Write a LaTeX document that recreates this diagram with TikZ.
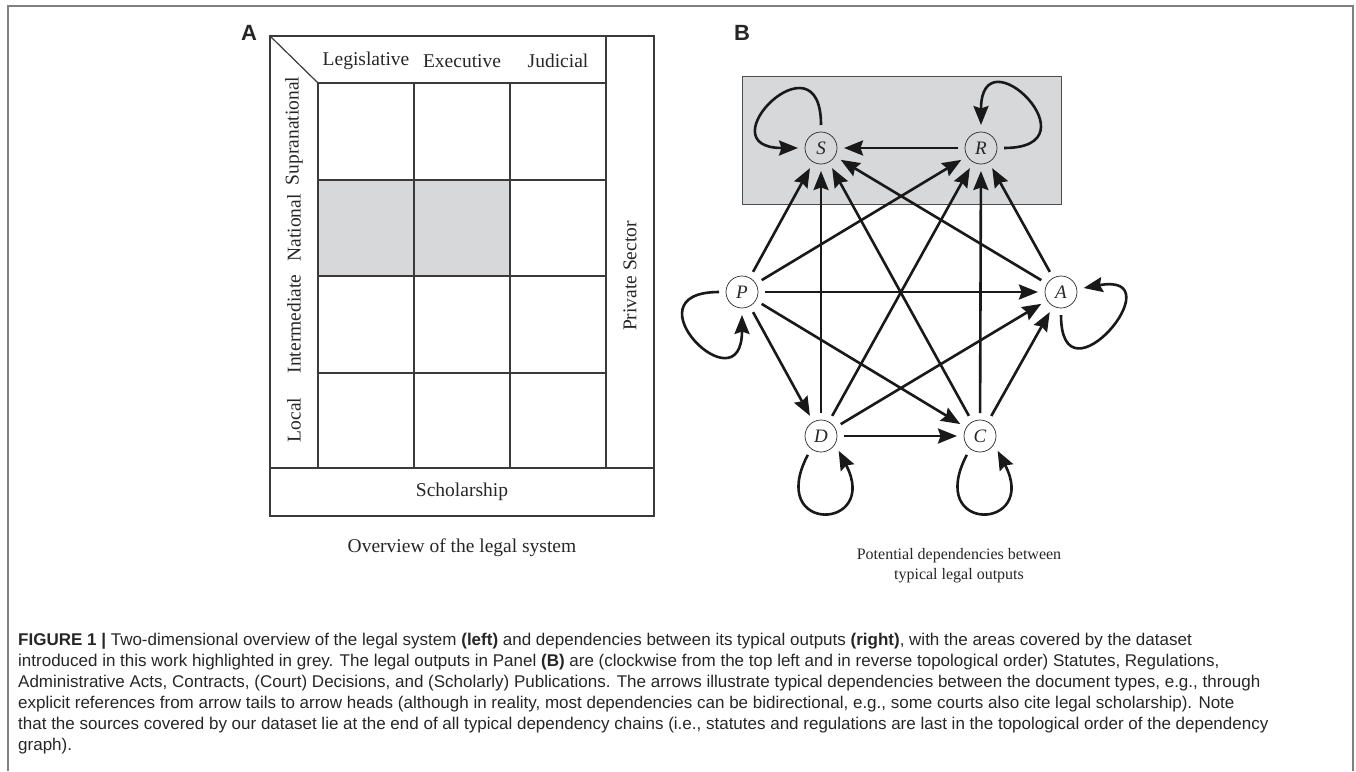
\documentclass[tikz,border=0pt]{standalone}
\usepackage{fontspec}
\setmainfont{Liberation Serif}
\newfontfamily\capfont{Liberation Sans}
\usetikzlibrary{arrows.meta}
\definecolor{framegray}{HTML}{808080}
\definecolor{linegray}{HTML}{3A3A3A}
\definecolor{cellgray}{HTML}{D7D8DA}
\definecolor{txt}{HTML}{262626}
\begin{document}
\begin{tikzpicture}[x=1pt,y=-1pt,
  cell/.style={draw=linegray, line width=1.2pt},
  lbl/.style={font=\fontsize{19.5}{20}\selectfont, text=txt, inner sep=0pt},
  gnode/.style={circle, draw=black!85, line width=0.7pt, minimum size=32pt, inner sep=0pt, outer sep=7pt, font=\fontsize{19}{19}\selectfont\itshape, text=txt},
  dep/.style={line width=2.6pt, draw=black!90, -{Stealth[length=19pt,width=15pt,inset=2.5pt]}},
  panel/.style={font=\capfont\bfseries\fontsize{22}{22}\selectfont, text=txt, inner sep=0pt},
  capline/.style={anchor=base west, font=\capfont\fontsize{17}{20}\selectfont, text=txt, inner sep=0pt},
]
\useasboundingbox (0,0) rectangle (1356,771);
% outer frame
\draw[framegray, line width=1.2pt] (8,771) -- (8,6) -- (1353,6) -- (1353,771);

% ---------------- Panel A ----------------
\node[panel] (labA) at (249,33) {A};
\fill[cellgray] (318,180) rectangle (510,276);
\draw[cell] (270,36) rectangle (654,516);
\draw[cell] (270,36) -- (318,83);
\draw[cell] (318,83) rectangle (606,468);
\draw[cell] (606,36) -- (606,468);
\draw[cell] (270,468) -- (654,468);
\foreach \x in {414,510} \draw[cell] (\x,83) -- (\x,468);
\foreach \y in {180,276,373} \draw[cell] (318,\y) -- (606,\y);

\node[lbl] (leg) at (366,61) {Legislative};
\node[lbl] (exe) at (462,61) {Executive};
\node[lbl] (jud) at (558,61) {Judicial};
\node[lbl, rotate=90] (sup) at (294,131) {Supranational};
\node[lbl, rotate=90] (nat) at (294,228) {National};
\node[lbl, rotate=90] (int) at (294,324) {Intermediate};
\node[lbl, rotate=90] (loc) at (294,420) {Local};
\node[lbl, rotate=90] (priv) at (630,276) {Private Sector};
\node[lbl] (schol) at (462,492) {Scholarship};
\node[lbl] (capA) at (462,548) {Overview of the legal system};

% ---------------- Panel B ----------------
\node[panel] (labB) at (742,33) {B};
\filldraw[fill=cellgray, draw=black!70, line width=1pt] (742,76) rectangle (1061,204);

\node[gnode] (S) at (821,148) {S};
\node[gnode] (R) at (981,148) {R};
\node[gnode] (P) at (742,292) {P};
\node[gnode] (A) at (1061,292) {A};
\node[gnode] (D) at (821,436) {D};
\node[gnode] (C) at (980,436) {C};

\foreach \a/\b in {R/S,P/S,P/R,P/A,P/D,P/C,D/S,D/R,D/A,D/C,C/S,C/R,C/A,A/S,A/R}
  \draw[dep] (\a) -- (\b);

% self loops
\draw[dep] (S.north) .. controls +(0,-95) and +(-95,0) .. (S.west);
\draw[dep] (R.east) .. controls +(95,0) and +(0,-95) .. (R.north);
\draw[dep] (P.west) .. controls +(-95,0) and +(0,95) .. (P.south);
\draw[dep] (A.south) .. controls +(0,95) and +(94,-17) .. (A.10);
\draw[dep] (D.235) .. controls +(-42,80) and +(42,80) .. (D.-40);
\draw[dep] (C.235) .. controls +(-42,80) and +(42,80) .. (C.-40);

\node[font=\fontsize{16}{20}\selectfont, text=txt, align=center, inner sep=0pt] (capB) at (959,566)
  {Potential dependencies between\\typical legal outputs};

% ---------------- Caption ----------------
\node[capline] (c1) at (18,645) {\textbf{FIGURE 1 |} Two-dimensional overview of the legal system \textbf{(left)} and dependencies between its typical outputs \textbf{(right)}, with the areas covered by the dataset};
\node[capline] (c2) at (18,666) {introduced in this work highlighted in grey. The legal outputs in Panel \textbf{(B)} are (clockwise from the top left and in reverse topological order) Statutes, Regulations,};
\node[capline] (c3) at (18,687) {Administrative Acts, Contracts, (Court) Decisions, and (Scholarly) Publications. The arrows illustrate typical dependencies between the document types, e.g., through};
\node[capline] (c4) at (18,708) {explicit references from arrow tails to arrow heads (although in reality, most dependencies can be bidirectional, e.g., some courts also cite legal scholarship). Note};
\node[capline] (c5) at (18,729) {that the sources covered by our dataset lie at the end of all typical dependency chains (i.e., statutes and regulations are last in the topological order of the dependency};
\node[capline] (c6) at (18,750) {graph).};
\end{tikzpicture}
\end{document}
